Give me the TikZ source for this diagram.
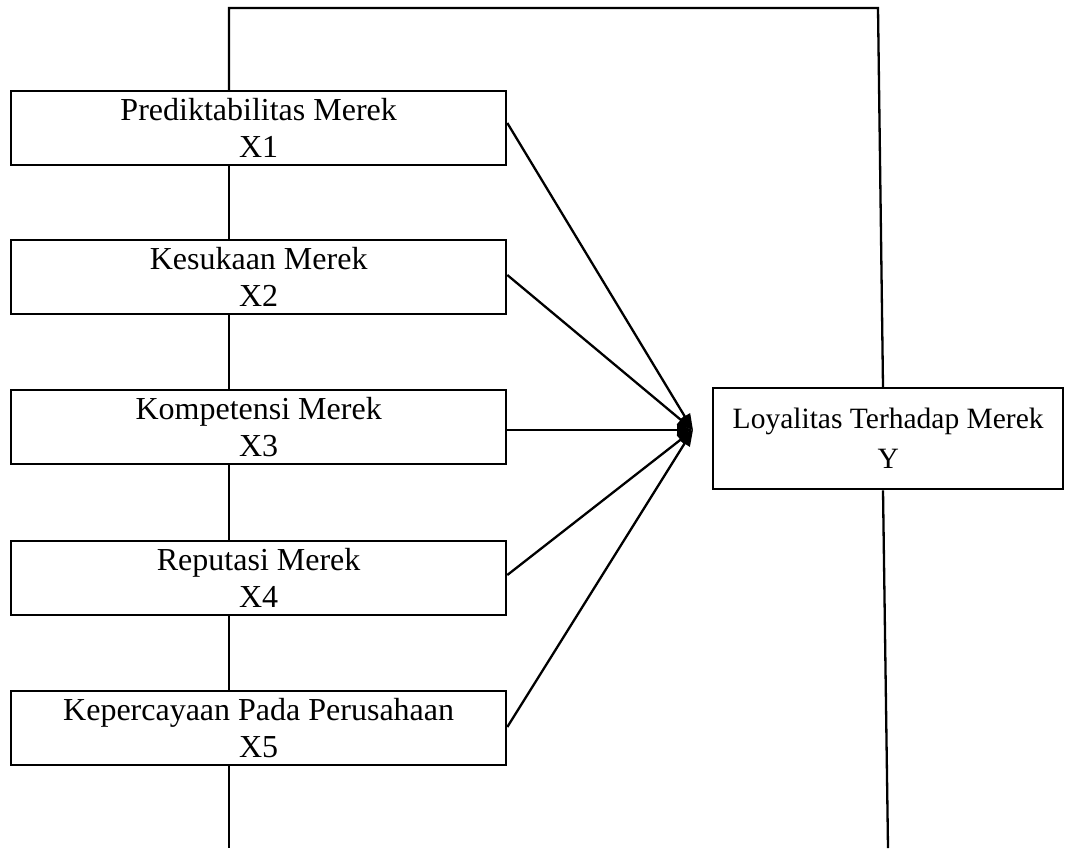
\documentclass[tikz,border=0pt]{standalone}
\usepackage{fontspec}
\setmainfont{Liberation Serif}
\usetikzlibrary{arrows.meta}
\begin{document}
\begin{tikzpicture}[x=1pt,y=-1pt,
  box/.style={draw, line width=2.3pt, rectangle, anchor=north west,
    minimum width=495pt, minimum height=74pt, inner sep=0pt, align=center,
    font=\fontsize{32}{37}\selectfont},
  ybox/.style={draw, line width=2.3pt, rectangle, anchor=north west,
    minimum width=350pt, minimum height=101pt, inner sep=0pt, align=center,
    font=\fontsize{29.5}{40}\selectfont},
  conn/.style={line width=2.3pt},
  arr/.style={line width=2.3pt, -{Triangle[length=16pt,width=12pt]}}]
\useasboundingbox (0,0) rectangle (1075,848);
\node[box] (x1) at (10,90) {Prediktabilitas Merek\\X1};
\node[box] (x2) at (10,239) {Kesukaan Merek\\X2};
\node[box] (x3) at (10,389) {Kompetensi Merek\\X3};
\node[box] (x4) at (10,540) {Reputasi Merek\\X4};
\node[box] (x5) at (10,690) {Kepercayaan Pada Perusahaan\\X5};
\node[ybox] (y) at (712,387) {Loyalitas Terhadap Merek\\Y};
\coordinate (tip) at (693,430);
\coordinate (tl) at (229,8);
\coordinate (tr) at (878,8);
\coordinate (bl) at (229,848);
\coordinate (br) at (888,848);
% loop lines
\draw[conn, line join=miter] ([xshift=219pt]x1.north west) -- (tl) -- (tr) -- ([xshift=171pt]y.north west);
\draw[conn] ([xshift=171pt]y.south west) -- (br);
\draw[conn] ([xshift=219pt]x5.south west) -- (bl);
\draw[conn] ([xshift=219pt]x1.south west) -- ([xshift=219pt]x2.north west);
\draw[conn] ([xshift=219pt]x2.south west) -- ([xshift=219pt]x3.north west);
\draw[conn] ([xshift=219pt]x3.south west) -- ([xshift=219pt]x4.north west);
\draw[conn] ([xshift=219pt]x4.south west) -- ([xshift=219pt]x5.north west);
% arrows
\draw[arr] ([yshift=-33pt]x1.north east) -- (tip);
\draw[arr] ([yshift=-36pt]x2.north east) -- (tip);
\draw[arr] ([yshift=-41pt]x3.north east) -- (tip);
\draw[arr] ([yshift=-35pt]x4.north east) -- (tip);
\draw[arr] ([yshift=-37pt]x5.north east) -- (tip);
\end{tikzpicture}
\end{document}
